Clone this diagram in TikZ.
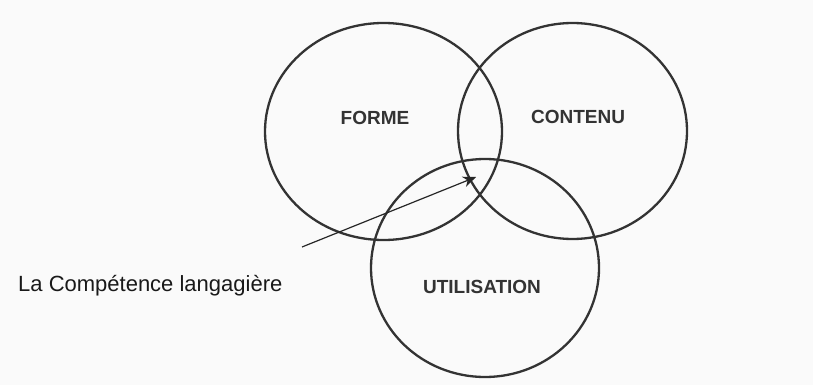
\documentclass[tikz,border=0pt]{standalone}
\usepackage{fontspec}
\setmainfont{Liberation Sans}
\usetikzlibrary{shapes.geometric,arrows.meta}
\pgfdeclarelayer{bg}
\pgfsetlayers{bg,main}

\begin{document}
\begin{tikzpicture}[x=1pt, y=-1pt,
        ring/.style={draw=black!80, line width=2.3pt, ellipse, inner sep=0pt},
        word/.style={font=\fontsize{19}{22}\selectfont\bfseries, text=black!80}]
        \useasboundingbox (0, 0) rectangle (813, 385);
        \begin{pgfonlayer}{bg}
                \fill[black!2] (0, 0) rectangle (813, 385);
        \end{pgfonlayer}
        \node (forme) [ring, minimum width=237pt, minimum height=217pt] at (383.5, 131.5) {};
        \node (contenu) [ring, minimum width=229pt, minimum height=216pt] at (572.5, 131) {};
        \node (utilisation) [ring, minimum width=228pt, minimum height=218pt] at (485, 268) {};
        \node (tforme) [word] at (375, 118) {FORME};
        \node (tcontenu) [word] at (578, 117) {CONTENU};
        \node (tutilisation) [word] at (482, 287) {UTILISATION};
        \node (competence) [anchor=base west, inner sep=0pt, text=black!90,
                font=\fontsize{22}{26}\selectfont] at (18, 291) {La Compétence langagière};
        \coordinate (tail) at (302, 247);
        \coordinate (tip) at (476, 177);
        \draw[black!85, line width=1.2pt, -{Stealth[length=13pt, width=11pt, inset=4pt]}] (tail) -- (tip);
\end{tikzpicture}
\end{document}
